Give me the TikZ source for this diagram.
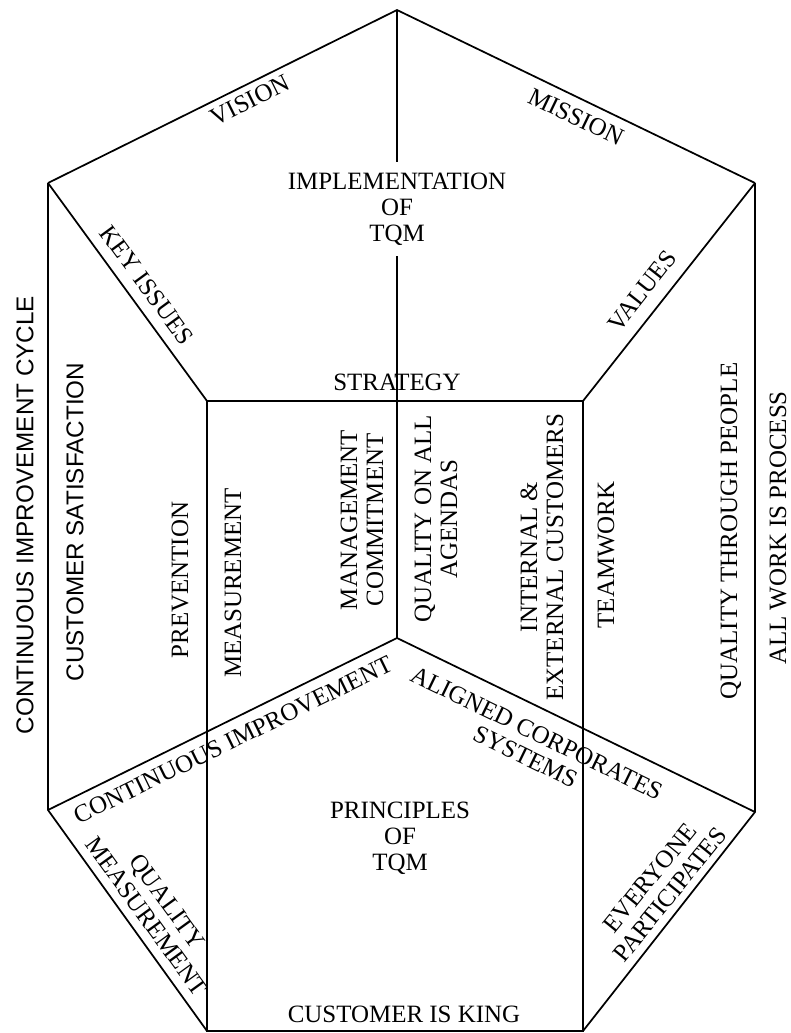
\documentclass[tikz,border=0pt]{standalone}
\usepackage{fontspec}
\setmainfont{Liberation Serif}
\setsansfont{Liberation Sans}
\begin{document}
\begin{tikzpicture}[x=0.75pt,y=-0.75pt,
  edge/.style={line width=1.3pt, line join=miter},
  lbl/.style={font=\fontsize{18.7}{19.5}\selectfont, align=center, inner sep=0pt},
  slbl/.style={font=\sffamily\fontsize{18.2}{19.5}\selectfont, align=center, inner sep=0pt}]
\useasboundingbox (0,0) rectangle (791,1033);
% corner points
\coordinate (A) at (397,10);
\coordinate (TL) at (48,183);
\coordinate (TR) at (755,183);
\coordinate (ITL) at (207,401);
\coordinate (ITR) at (583,401);
\coordinate (C) at (397,638);
\coordinate (BL) at (48,810);
\coordinate (BR) at (755,812);
\coordinate (BBL) at (207,1031);
\coordinate (BBR) at (583,1031);
% central label with gap in line
\node[lbl, inner ysep=8pt] (impl) at (397,209) {IMPLEMENTATION\\OF\\TQM};
% edges
\draw[edge] (TL) -- (A) -- (TR);
\draw[edge] (A) -- (impl);
\draw[edge] (impl) -- (C);
\draw[edge] (TL) -- (BL) -- (BBL);
\draw[edge] (TR) -- (BR) -- (BBR);
\draw[edge] (TL) -- (ITL) -- (ITR) -- (TR);
\draw[edge] (ITL) -- (BBL) -- (BBR) -- (ITR);
\draw[edge] (BL) -- (C) -- (BR);
% top face labels
\node[lbl, rotate=26.4] (vision) at (250,100) {VISION};
\node[lbl, rotate=-25.7] (mission) at (576,117) {MISSION};
\node[lbl, rotate=-53.8] (keyissues) at (147,285) {KEY ISSUES};
\node[lbl, rotate=51.9] (values) at (642,291) {VALUES};
\node[lbl] (strategy) at (397,382) {STRATEGY};
% vertical labels
\node[slbl, rotate=90] (cic) at (25,515) {CONTINUOUS IMPROVEMENT CYCLE};
\node[slbl, rotate=90] (custsat) at (75,522) {CUSTOMER SATISFACTION};
\node[lbl, rotate=90] (prevention) at (180,580) {PREVENTION};
\node[lbl, rotate=90] (measurement) at (233,583) {MEASUREMENT};
\node[lbl, rotate=90] (mgmt) at (362,520) {MANAGEMENT\\COMMITMENT};
\node[lbl, rotate=90] (qoaa) at (436,519) {QUALITY ON ALL\\AGENDAS};
\node[lbl, rotate=90] (iec) at (542,557) {INTERNAL \&\\EXTERNAL CUSTOMERS};
\node[lbl, rotate=90] (teamwork) at (606,555) {TEAMWORK};
\node[lbl, rotate=90] (qtp) at (731,531) {QUALITY THROUGH PEOPLE};
\node[lbl, rotate=90] (awip) at (778,528) {ALL WORK IS PROCESS};
% bottom face labels
\node[lbl, rotate=26] (contimp) at (233,740) {CONTINUOUS IMPROVEMENT};
\node[lbl, rotate=-25.9] (aligned) at (531,745) {ALIGNED CORPORATES\\SYSTEMS};
\node[lbl, rotate=-54] (qm) at (157,909) {QUALITY\\MEASUREMENT};
\node[lbl, rotate=51] (everyone) at (660,886) {EVERYONE\\PARTICIPATES};
\node[lbl] (principles) at (400,838) {PRINCIPLES\\OF\\TQM};
\node[lbl] (king) at (404,1014) {CUSTOMER IS KING};
\end{tikzpicture}
\end{document}
